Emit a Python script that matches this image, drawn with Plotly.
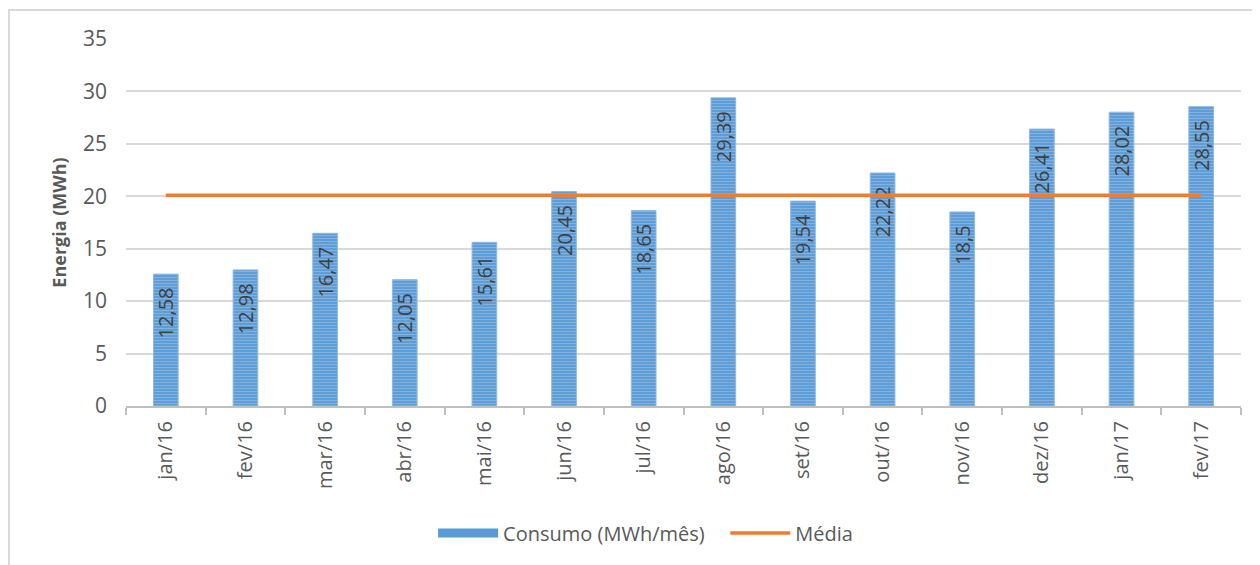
import plotly.graph_objects as go

categories = ["jan/16", "fev/16", "mar/16", "abr/16", "mai/16", "jun/16", "jul/16",
              "ago/16", "set/16", "out/16", "nov/16", "dez/16", "jan/17", "fev/17"]
consumo = [12.58, 12.98, 16.47, 12.05, 15.61, 20.45, 18.65,
           29.39, 19.54, 22.22, 18.5, 26.41, 28.02, 28.55]
media = [20.1] * 14
y_ticks = [0, 5, 10, 15, 20, 25, 30, 35]

NB = "\u00a0"
labels = [str(v).replace(".", ",") + NB * 2 for v in consumo]
FONT = "Open Sans"
GRAY = "#595959"
BLUE = "#5B9BD5"

fig = go.Figure()
fig.add_trace(go.Bar(
    x=categories, y=consumo, name="Consumo (MWh/mês)",
    width=0.31, showlegend=False, legendgroup="c",
    marker=dict(color=BLUE, line=dict(color="#8FB8E3", width=1),
                pattern=dict(shape="-", fgcolor="#A9CBEC", size=3, solidity=0.4)),
    text=labels, textposition="inside", insidetextanchor="end", textangle=-90,
    textfont=dict(family=FONT, size=20, color="#404040"),
    constraintext="none", cliponaxis=False,
))
# legend entry for the bars (wide striped-looking swatch like the original)
fig.add_trace(go.Scatter(
    x=[None], y=[None], name="Consumo (MWh/mês)" + NB * 3, mode="lines",
    legendgroup="c", line=dict(color=BLUE, width=9),
))
fig.add_trace(go.Scatter(
    x=categories, y=media, name="Média", mode="lines",
    line=dict(color="#ED7D31", width=3.5),
))

# page body has an 8px margin, so the figure is offset by 8px
fig.update_layout(
    width=1252, height=557,
    margin=dict(l=118, r=19, t=31, b=159),
    paper_bgcolor="white", plot_bgcolor="white",
    font=dict(family=FONT, color=GRAY, size=20),
    uniformtext=dict(minsize=20, mode="show"),
    showlegend=True,
    legend=dict(orientation="h", x=0.466, xanchor="center", y=-0.346, yanchor="middle",
                font=dict(size=20, color=GRAY), itemwidth=60, traceorder="normal"),
    shapes=[dict(type="rect", xref="paper", yref="paper", x0=-0.105, x1=1.2, y0=-0.6, y1=1.079,
                 line=dict(color="#D9D9D9", width=2), layer="below")],
)
fig.update_xaxes(
    tickangle=-90, tickfont=dict(size=20, color=GRAY), ticklabelstandoff=5,
    showline=True, linecolor="#BFBFBF", linewidth=2,
    ticks="outside", tickson="boundaries", ticklen=7, tickcolor="#BFBFBF", tickwidth=2,
    showgrid=False,
)
fig.update_yaxes(
    range=[0, 35], tickvals=y_ticks, tickfont=dict(size=21, color=GRAY),
    showgrid=True, gridcolor="#D9D9D9", gridwidth=1.5, zeroline=False,
    ticks="", ticklabelstandoff=18,
    title=dict(text="<b>Energia (MWh)</b>", font=dict(size=18, color=GRAY), standoff=11),
)

fig.write_html("out.html")
